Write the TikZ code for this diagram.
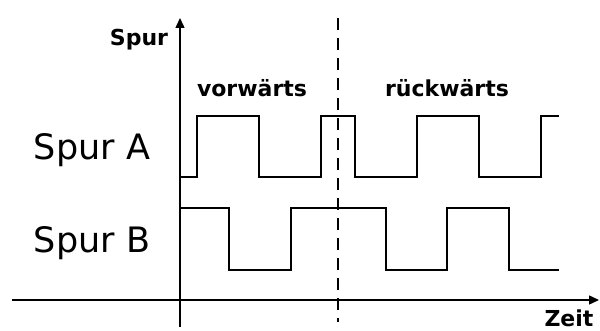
\documentclass[tikz,border=0pt]{standalone}
\usepackage{fontspec}
\setmainfont{DejaVu Sans}
\usetikzlibrary{arrows.meta}

\begin{document}
\begin{tikzpicture}[x=1pt,y=-1pt,line width=1.4pt,
  lbl/.style={font=\fontsize{22}{24}\selectfont\bfseries},
  big/.style={font=\fontsize{35}{40}\selectfont}]
   \useasboundingbox (0,0) rectangle (600,331);
   % axes
   \coordinate (yfoot) at (180,327);
   \coordinate (ytop) at (180,18);
   \coordinate (xleft) at (12,300);
   \coordinate (xright) at (599,300);
   \draw[-{Triangle[length=10pt,width=9pt]}] (yfoot) -- (ytop);
   \draw[-{Triangle[length=10pt,width=9pt]}] (xleft) -- (xright);
   % direction change
   \coordinate (dtop) at (338,18);
   \coordinate (dfoot) at (338,322);
   \draw[line width=1.2pt,dash pattern=on 12pt off 8pt] (dtop) -- (dfoot);
   % Spur A
   \draw (180,177) -- (197,177) -- (197,116) -- (259,116) -- (259,177)
      -- (321,177) -- (321,116) -- (355,116) -- (355,177) -- (417,177)
      -- (417,116) -- (479,116) -- (479,177) -- (541,177) -- (541,116)
      -- (559,116);
   % Spur B
   \draw (180,208) -- (229,208) -- (229,270) -- (291,270) -- (291,208)
      -- (386,208) -- (386,270) -- (447,270) -- (447,208) -- (509,208)
      -- (509,270) -- (559,270);
   % labels
   \node[lbl] (spur) at (139,40) {Spur};
   \node[lbl] (vor) at (252,88) {vorwärts};
   \node[lbl] (rueck) at (447,88) {rückwärts};
   \node[lbl] (zeit) at (569,318) {Zeit};
   \node[big] (spura) at (92,150) {Spur A};
   \node[big] (spurb) at (92,243) {Spur B};
\end{tikzpicture}
\end{document}
